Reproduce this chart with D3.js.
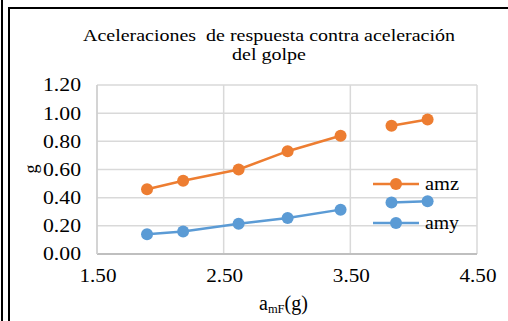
<!DOCTYPE html>
<html>
<head>
<meta charset="utf-8">
<script src="https://cdn.jsdelivr.net/npm/d3@7"></script>
<style>
  html, body { margin: 0; padding: 0; background: #fff; }
  svg { display: block; }
  text { font-family: "Liberation Serif", "Times New Roman", serif; fill: #000; }
</style>
</head>
<body>
<svg id="chart" width="508" height="321"></svg>
<script>
// ---- data ----
const xValues   = [1.895, 2.18, 2.618, 3.005, 3.423, null, 3.825, 4.11];
const amzValues = [0.46, 0.52, 0.60, 0.73, 0.84, null, 0.91, 0.955];
const amyValues = [0.14, 0.16, 0.215, 0.255, 0.315, null, 0.365, 0.375];
const seriesNames = ["amz", "amy"];
const xTicks = [1.5, 2.5, 3.5, 4.5];
const yTicks = [0, 0.2, 0.4, 0.6, 0.8, 1.0, 1.2];
const titleLines = ["Aceleraciones  de respuesta contra aceleración", "del golpe"];

const colors = { amz: "#ED7D31", amy: "#5B9BD5" };
const FONT = "'Liberation Serif', 'Times New Roman', serif";

const svg = d3.select("#chart");

// outer borders
svg.append("line").attr("x1", 2).attr("x2", 2).attr("y1", 0).attr("y2", 321)
  .attr("stroke", "#000").attr("stroke-width", 2);
svg.append("line").attr("x1", 9).attr("x2", 9).attr("y1", 7).attr("y2", 321)
  .attr("stroke", "#000").attr("stroke-width", 2);
svg.append("line").attr("x1", 8).attr("x2", 508).attr("y1", 8).attr("y2", 8)
  .attr("stroke", "#000").attr("stroke-width", 2);

const x = d3.scaleLinear().domain([1.5, 4.5]).range([97, 477]);
const y = d3.scaleLinear().domain([0, 1.2]).range([254, 85]);

// gridlines
svg.append("g").selectAll("line").data(yTicks.slice(1)).join("line")
  .attr("x1", x(1.5)).attr("x2", x(4.5))
  .attr("y1", d => y(d)).attr("y2", d => y(d))
  .attr("stroke", "#d9d9d9").attr("stroke-width", 1.5);
svg.append("g").selectAll("line").data(xTicks.slice(1)).join("line")
  .attr("x1", d => x(d)).attr("x2", d => x(d))
  .attr("y1", y(0)).attr("y2", y(1.2))
  .attr("stroke", "#d9d9d9").attr("stroke-width", 1.5);
// axes lines
svg.append("line").attr("x1", x(1.5)).attr("x2", x(4.5)).attr("y1", y(0)).attr("y2", y(0))
  .attr("stroke", "#bfbfbf").attr("stroke-width", 1.8);
svg.append("line").attr("x1", x(1.5)).attr("x2", x(1.5)).attr("y1", y(0)).attr("y2", y(1.2))
  .attr("stroke", "#d0d0d0").attr("stroke-width", 1.8);

// tick labels
svg.append("g").selectAll("text").data(yTicks).join("text")
  .attr("x", 81).attr("y", d => y(d)).attr("dy", "0.35em")
  .attr("text-anchor", "end").attr("font-size", 18.5)
  .attr("font-family", FONT)
  .attr("textLength", 38).attr("lengthAdjust", "spacingAndGlyphs")
  .text(d => d.toFixed(2));
svg.append("g").selectAll("text").data(xTicks).join("text")
  .attr("x", d => x(d) + 1).attr("y", 282)
  .attr("text-anchor", "middle").attr("font-size", 18.5)
  .attr("font-family", FONT)
  .attr("textLength", 37).attr("lengthAdjust", "spacingAndGlyphs")
  .text(d => d.toFixed(2));

// title
const titleWidths = [372, 74];
svg.append("g").selectAll("text").data(titleLines).join("text")
  .attr("x", 269).attr("y", (d, i) => 41 + i * 19)
  .attr("text-anchor", "middle").attr("font-size", 17)
  .attr("font-family", FONT)
  .attr("xml:space", "preserve")
  .style("white-space", "pre")
  .attr("textLength", (d, i) => titleWidths[i]).attr("lengthAdjust", "spacingAndGlyphs")
  .text(d => d);

// axis titles
svg.append("text").attr("transform", "translate(37,169) rotate(-90)")
  .attr("text-anchor", "middle").attr("font-size", 18).attr("font-family", FONT).text("g");
const xt = svg.append("text").attr("x", 259).attr("y", 310).attr("font-size", 20).attr("font-family", FONT);
xt.append("tspan").text("a");
xt.append("tspan").attr("font-size", 12.5).attr("dy", 3).text("mF");
xt.append("tspan").attr("dy", -3).text("(g)");

// series
const seriesData = {
  amz: xValues.map((xv, i) => ({ x: xv, y: amzValues[i] })),
  amy: xValues.map((xv, i) => ({ x: xv, y: amyValues[i] }))
};
const line = d3.line().defined(d => d.x != null && d.y != null).x(d => x(d.x)).y(d => y(d.y));
seriesNames.forEach(name => {
  const data = seriesData[name];
  svg.append("path").datum(data).attr("d", line)
    .attr("fill", "none").attr("stroke", colors[name]).attr("stroke-width", 2.5);
  svg.append("g").selectAll("circle").data(data.filter(d => d.x != null && d.y != null)).join("circle")
    .attr("cx", d => x(d.x)).attr("cy", d => y(d.y)).attr("r", 6)
    .attr("fill", colors[name]);
});

// legend
const legend = svg.append("g");
seriesNames.forEach((name, i) => {
  const ly = 184 + i * 39;
  legend.append("line").attr("x1", 373).attr("x2", 419).attr("y1", ly).attr("y2", ly)
    .attr("stroke", colors[name]).attr("stroke-width", 2.5);
  legend.append("circle").attr("cx", 396).attr("cy", ly).attr("r", 6).attr("fill", colors[name]);
  legend.append("text").attr("x", 425).attr("y", ly).attr("dy", "0.35em").attr("font-size", 18.5)
    .attr("font-family", FONT)
    .attr("textLength", 34).attr("lengthAdjust", "spacingAndGlyphs").text(name);
});
</script>
</body>
</html>
